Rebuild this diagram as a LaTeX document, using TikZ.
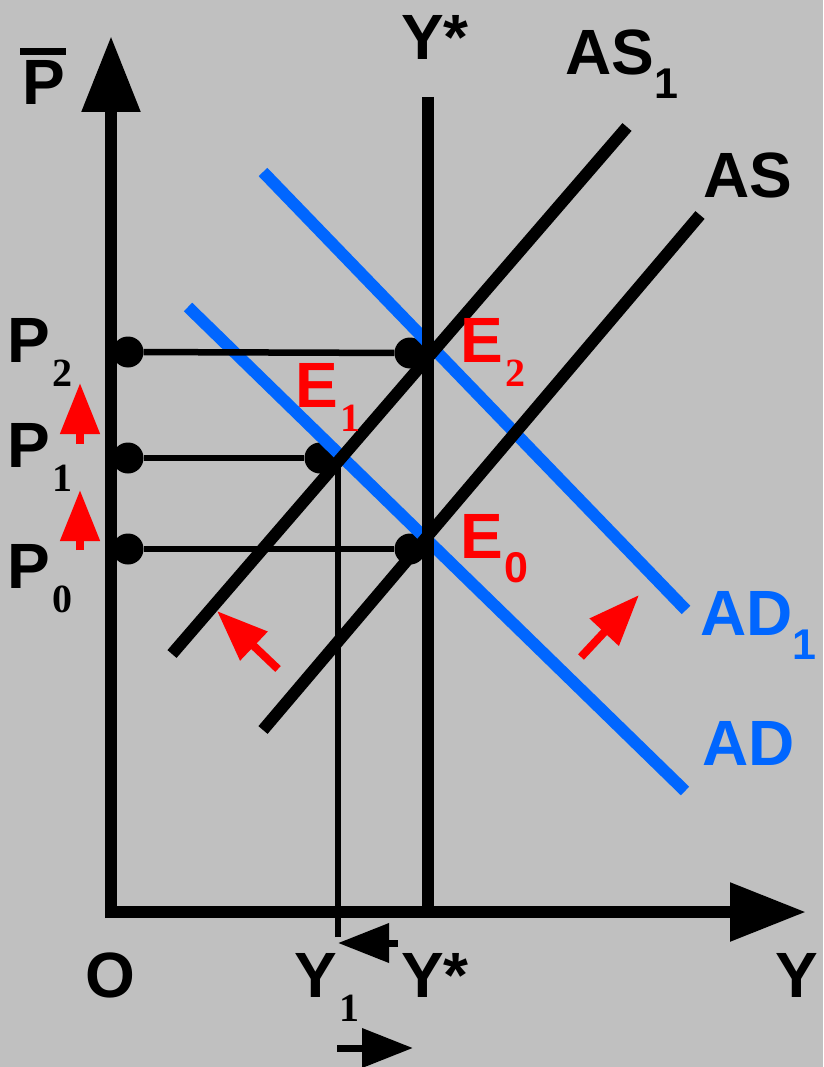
\documentclass[tikz,border=0pt]{standalone}
\usepackage{fontspec}
\setmainfont{Liberation Sans}
\newfontfamily\serifnum{Liberation Serif}
\usetikzlibrary{arrows.meta}

\definecolor{bggray}{HTML}{C0C0C0}
\definecolor{adblue}{HTML}{0066FF}
\definecolor{ered}{HTML}{FF0000}

% subscripts: serif digits for P, E, Y; sans for AS, AD
\newcommand{\subser}[1]{\kern3pt\raisebox{-24pt}{\fontsize{40}{40}\selectfont\serifnum\bfseries #1}}
\newcommand{\subsans}[2][2pt]{\kern#1\raisebox{-24pt}{\fontsize{43}{43}\selectfont\bfseries #2}}

\begin{document}
\begin{tikzpicture}[
  x=1pt, y=-1pt,
  lbl/.style={inner sep=0pt, anchor=base west, font=\fontsize{64}{64}\selectfont\bfseries},
  axis/.style={line width=12pt, -{Triangle[length=76pt, width=56pt]}},
  curve/.style={line width=12pt},
  thin/.style={line width=6.5pt},
  dot/.style={circle, fill=black, inner sep=0pt, minimum size=31pt},
  movearr/.style={line width=8pt, -{Triangle[length=51pt, width=38pt]}},
]
\fill[bggray] (0,0) rectangle (823,1067);
% ---- points ----
\coordinate (o) at (111,912);
\coordinate (ytop) at (111,36);
\coordinate (xend) at (806,912);
\coordinate (ys) at (428,97);
\coordinate (ysb) at (428,912);
\coordinate (y1b) at (338,937);
\node[dot] (p2) at (128,352) {};
\node[dot] (p1) at (128,458) {};
\node[dot] (p0) at (128,549) {};
\node[dot] (e2) at (410,353) {};
\node[dot] (e1) at (320,458) {};
\node[dot] (e0) at (410,549) {};
% ---- curves ----
\coordinate (as1a) at (172,654);  \coordinate (as1b) at (627,127);
\coordinate (asa) at (263,730);   \coordinate (asb) at (700,215);
\coordinate (ada) at (188,307);   \coordinate (adb) at (685,791);
\coordinate (ad1a) at (263,172);  \coordinate (ad1b) at (686,610);
\draw[curve, adblue] (ada) -- (adb);
\draw[curve, adblue] (ad1a) -- (ad1b);
\draw[curve] (as1a) -- (as1b);
\draw[curve] (asa) -- (asb);
% ---- axes and guides ----
\draw[axis] ([yshift=-6pt]o) -- (ytop);
\draw[axis] ([xshift=-6pt]o) -- (xend);
\draw[curve] (ys) -- (ysb);
\draw[thin] (p2) -- (e2);
\draw[thin] (p1) -- (e1);
\draw[thin] (p0) -- (e0);
\draw[thin] (y1b) -- (y1b |- e1.center);
% ---- shift arrows ----
\coordinate (u1a) at (80,444); \coordinate (u1b) at (80,383);
\coordinate (u0a) at (80,550); \coordinate (u0b) at (80,490);
\coordinate (lsa) at (278,669); \coordinate (lsb) at (217,611);
\coordinate (rsa) at (581,657); \coordinate (rsb) at (639,595);
\coordinate (yla) at (398,943); \coordinate (ylb) at (338,943);
\coordinate (yra) at (337,1048); \coordinate (yrb) at (413,1048);
\draw[movearr, ered] (u1a) -- (u1b);
\draw[movearr, ered] (u0a) -- (u0b);
\draw[movearr, ered] (lsa) -- (lsb);
\draw[movearr, ered] (rsa) -- (rsb);
\draw[movearr, line width=7pt] (yla) -- (ylb);
\draw[movearr, line width=7pt] (yra) -- (yrb);
% ---- labels ----
\node[lbl] (pbar) at (22,105) {P};
\draw[line width=7pt] ([xshift=-2pt,yshift=9pt]pbar.north west) -- ([xshift=1pt,yshift=9pt]pbar.north east);
\node[lbl] (lp2) at (7,362) {P\subser{2}};
\node[lbl] (lp1) at (7,467) {P\subser{1}};
\node[lbl] (lp0) at (7,588) {P\subser{0}};
\node[lbl] (lystop) at (401,60) {Y*};
\node[lbl] (las1) at (565,75) {AS\subsans[0pt]{1}};
\node[lbl] (las) at (703,198) {AS};
\node[lbl, text=ered] (le2) at (460,362) {E\subser{2}};
\node[lbl, text=ered] (le1) at (295,407) {E\subser{1}};
\node[lbl, text=ered] (le0) at (460,558) {E\subsans{0}};
\node[lbl, text=adblue] (lad1) at (700,635) {AD\subsans[0pt]{1}};
\node[lbl, text=adblue] (lad) at (702,765) {AD};
\node[lbl] (lo) at (85,997) {O};
\node[lbl] (ly1) at (294,997) {Y\subser{1}};
\node[lbl] (lys) at (401,997) {Y*};
\node[lbl] (ly) at (775,997) {Y};
\end{tikzpicture}
\end{document}
